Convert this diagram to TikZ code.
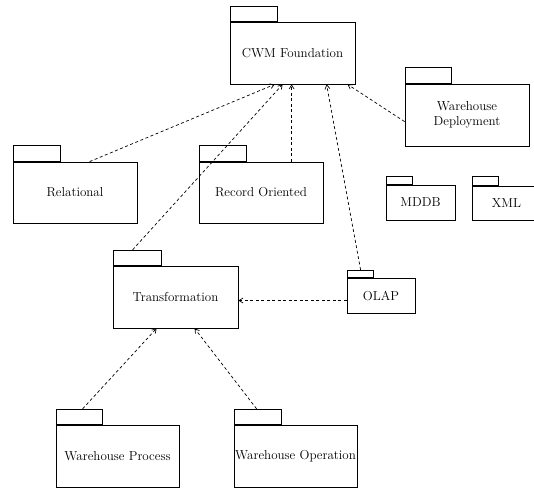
\documentclass[tikz,border=0pt]{standalone}
\usetikzlibrary{arrows.meta,calc}
\begin{document}
\begin{tikzpicture}[x=1pt,y=-1pt,
 pkg/.style={draw, line width=0.8pt, inner sep=0pt, font=\fontsize{13}{15}\selectfont, align=center},
 pkgtab/.style={draw, line width=0.8pt, inner sep=0pt, anchor=south west},
 depline/.style={dash pattern=on 3pt off 2.5pt, line width=0.7pt, -{Straight Barb[length=4pt,width=5pt]}}]
\useasboundingbox (0,0) rectangle (534,489);
% packages
\node[pkg, minimum width=125pt, minimum height=62pt] (cwm) at (292.5,53) {CWM Foundation};
\node[pkgtab, minimum width=47pt, minimum height=15pt] (cwmtab) at (cwm.north west) {};
\node[pkg, minimum width=124pt, minimum height=62pt] (dep) at (467,115) {Warehouse\\Deployment};
\node[pkgtab, minimum width=46pt, minimum height=16pt] (deptab) at (dep.north west) {};
\node[pkg, minimum width=124pt, minimum height=61pt] (rel) at (75,192.5) {Relational};
\node[pkgtab, minimum width=47pt, minimum height=16pt] (reltab) at (rel.north west) {};
\node[pkg, minimum width=124pt, minimum height=61pt] (rec) at (261,192.5) {Record Oriented};
\node[pkgtab, minimum width=47pt, minimum height=16pt] (rectab) at (rec.north west) {};
\node[pkg, minimum width=69pt, minimum height=35pt] (mddb) at (420.5,202.5) {MDDB};
\node[pkgtab, minimum width=26pt, minimum height=8pt] (mddbtab) at (mddb.north west) {};
\node[pkg, minimum width=69pt, minimum height=34pt] (xml) at (506.5,203) {XML};
\node[pkgtab, minimum width=26pt, minimum height=9pt] (xmltab) at (xml.north west) {};
\node[pkg, minimum width=125pt, minimum height=62pt] (trans) at (175.5,297) {Transformation};
\node[pkgtab, minimum width=48pt, minimum height=15pt] (transtab) at (trans.north west) {};
\node[pkg, minimum width=68pt, minimum height=35pt] (olap) at (381,295.5) {OLAP};
\node[pkgtab, minimum width=26pt, minimum height=7pt] (olaptab) at (olap.north west) {};
\node[pkg, minimum width=123pt, minimum height=62pt] (wp) at (117.5,456) {Warehouse Process};
\node[pkgtab, minimum width=46pt, minimum height=15pt] (wptab) at (wp.north west) {};
\node[pkg, minimum width=123pt, minimum height=62pt] (wo) at (295.5,456) {Warehouse Operation};
\node[pkgtab, minimum width=47pt, minimum height=15pt] (wotab) at (wo.north west) {};
% dependencies
\draw[depline] ([xshift=77pt]rel.north west) -- ([xshift=45pt]cwm.south west);
\draw[depline] ([xshift=20pt]transtab.north west) -- ([xshift=53pt]cwm.south west);
\draw[depline] ([xshift=93pt]rec.north west) -- ([xshift=62pt]cwm.south west);
\draw[depline] ([xshift=14pt]olaptab.north west) -- ([xshift=97pt]cwm.south west);
\draw[depline] ([yshift=-38pt]dep.north west) -- ([xshift=118pt]cwm.south west);
\coordinate (o1) at ([yshift=-5pt]olap.west);
\draw[depline] (o1) -- (o1 -| trans.east);
\draw[depline] ([xshift=27pt]wptab.north west) -- ([xshift=44pt]trans.south west);
\draw[depline] ([xshift=23pt]wotab.north west) -- ([xshift=82pt]trans.south west);
\end{tikzpicture}
\end{document}
